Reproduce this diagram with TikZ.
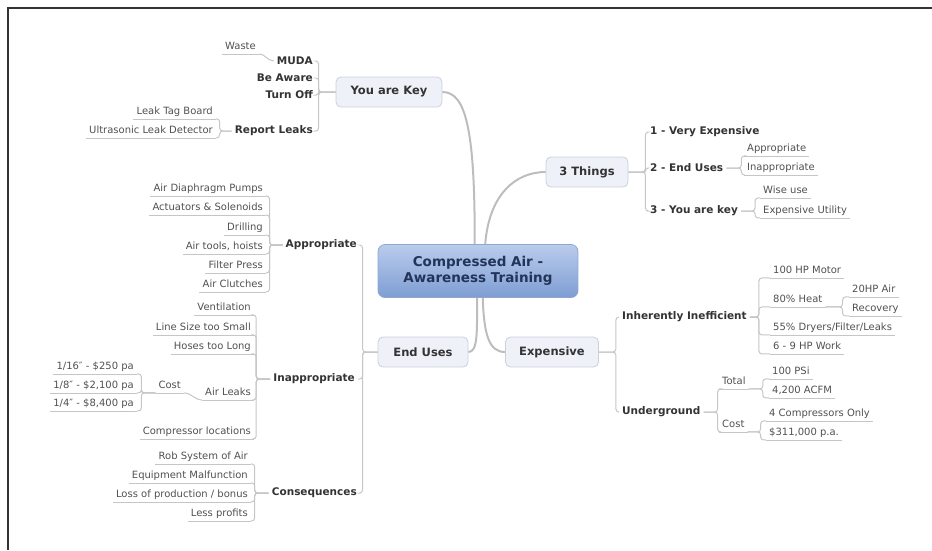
\documentclass[tikz,border=0pt]{standalone}
\usepackage{fontspec}
\setmainfont{DejaVu Sans}
\definecolor{linegray}{HTML}{C6C6C6}
\definecolor{curvegray}{HTML}{BDBDBD}
\definecolor{leaftext}{HTML}{505050}
\definecolor{subtext}{HTML}{333333}
\definecolor{topicfill}{HTML}{EEF1F8}
\definecolor{topicdraw}{HTML}{C9CFDC}
\definecolor{rootdraw}{HTML}{8EA6D2}
\definecolor{roottop}{HTML}{BACCEC}
\definecolor{rootbottom}{HTML}{7E9DD3}
\definecolor{roottext}{HTML}{22345A}
\definecolor{framedark}{HTML}{333333}
\begin{document}
\begin{tikzpicture}[x=1pt,y=-1pt,
  conn/.style={draw=linegray, line width=1pt, rounded corners=3pt},
  maincurve/.style={draw=curvegray, line width=2pt},
  uline/.style={draw=linegray, line width=0.9pt},
  leaf/.style={font=\fontsize{10}{12}\selectfont, text=leaftext,
    inner xsep=3pt, inner ysep=2pt, text height=7.5pt, text depth=2pt,
    append after command={(\tikzlastnode.south west) edge[uline] (\tikzlastnode.south east)}},
  sub/.style={font=\fontsize{10.5}{12}\selectfont\bfseries, text=subtext, inner sep=3pt},
  topic/.style={font=\fontsize{11.5}{13}\selectfont\bfseries, text=subtext,
    fill=topicfill, draw=topicdraw, line width=0.8pt, rounded corners=5pt,
    minimum height=30pt},
  central/.style={font=\fontsize{13.5}{16}\selectfont\bfseries, text=roottext,
    top color=roottop, bottom color=rootbottom, draw=rootdraw, line width=0.8pt,
    rounded corners=7pt, align=center, minimum width=200pt, minimum height=53pt}]
  \useasboundingbox (0,0) rectangle (932,550);
  \draw[draw=framedark, line width=1.6pt] (8,550) -- (8,8) -- (932,8);

  % centre and main topics
  \node[central] (root) at (478,271) {Compressed Air -\\Awareness Training};
  \node[topic, minimum width=106pt] (ykey) at (389,92) {You are Key};
  \node[topic, minimum width=82pt] (three) at (587,172) {3 Things};
  \node[topic, minimum width=90pt] (enduses) at (423,352) {End Uses};
  \node[topic, minimum width=93pt] (expensive) at (552,352) {Expensive};

  \draw[maincurve] (ykey.east) .. controls (466,92) and (475,130) .. (root.97);
  \draw[maincurve] (three.west) .. controls (515,172) and (489,195) .. (root.75);
  \draw[maincurve] (root.-92) .. controls (477,332) and (478,352) .. (enduses.east);
  \draw[maincurve] (root.-80) .. controls (484,335) and (489,352) .. (expensive.west);

  % You are Key
  \node[sub, anchor=east] (muda) at (316,61) {MUDA};
  \node[sub, anchor=east] (beaware) at (316,78) {Be Aware};
  \node[sub, anchor=east] (turnoff) at (316,95) {Turn Off};
  \node[sub, anchor=east] (report) at (316,131) {Report Leaks};
  \foreach \n in {muda,beaware,turnoff,report}
    \draw[conn] (ykey.west) -- ++(-17,0) |- (\n.east);
  \node[leaf, anchor=east] (waste) at (259,47) {Waste};
  \draw[conn] (muda.west) to[out=180,in=0] (waste.south east);
  \node[leaf, anchor=east] (leaktag) at (216,112) {Leak Tag Board};
  \node[leaf, anchor=east] (ultra) at (216,131) {Ultrasonic Leak Detector};
  \foreach \n in {leaktag,ultra}
    \draw[conn] (report.west) -- ++(-12,0) |- (\n.south east);

  % End Uses
  \node[sub, anchor=east] (approp) at (360,245) {Appropriate};
  \node[sub, anchor=east] (inapprop) at (358,379) {Inappropriate};
  \node[sub, anchor=east] (conseq) at (360,493) {Consequences};
  \foreach \n in {approp,inapprop,conseq}
    \draw[conn] (enduses.west) -- ++(-15,0) |- (\n.east);

  \node[leaf, anchor=east] (pumps) at (266,189) {Air Diaphragm Pumps};
  \node[leaf, anchor=east] (actuators) at (266,208) {Actuators \& Solenoids};
  \node[leaf, anchor=east] (drilling) at (266,228) {Drilling};
  \node[leaf, anchor=east] (airtools) at (266,247) {Air tools, hoists};
  \node[leaf, anchor=east] (filter) at (266,266) {Filter Press};
  \node[leaf, anchor=east] (clutches) at (266,285) {Air Clutches};
  \foreach \n in {pumps,actuators,drilling,airtools,filter,clutches}
    \draw[conn] (approp.west) -- ++(-13,0) |- (\n.south east);

  \node[leaf, anchor=east] (vent) at (254,308) {Ventilation};
  \node[leaf, anchor=east] (linesize) at (254,328) {Line Size too Small};
  \node[leaf, anchor=east] (hoses) at (254,347) {Hoses too Long};
  \node[leaf, anchor=east] (airleaks) at (254,393) {Air Leaks};
  \node[leaf, anchor=east] (locations) at (254,432) {Compressor locations};
  \foreach \n in {vent,linesize,hoses,airleaks,locations}
    \draw[conn] (inapprop.west) -- ++(-14,0) |- (\n.south east);
  \node[leaf, anchor=east] (leakcost) at (184,386) {Cost};
  \draw[conn] (airleaks.south west) to[out=180,in=0] (leakcost.south east);
  \node[leaf, anchor=east] (sixteenth) at (137,367) {1/16″ - \$250 pa};
  \node[leaf, anchor=east] (eighth) at (137,386) {1/8″ - \$2,100 pa};
  \node[leaf, anchor=east] (quarter) at (137,404) {1/4″ - \$8,400 pa};
  \foreach \n in {sixteenth,eighth,quarter}
    \draw[conn] (leakcost.south west) -- ++(-14,0) |- (\n.south east);

  \node[leaf, anchor=east] (robair) at (251,457) {Rob System of Air};
  \node[leaf, anchor=east] (malfunction) at (251,476) {Equipment Malfunction};
  \node[leaf, anchor=east] (lossprod) at (251,495) {Loss of production / bonus};
  \node[leaf, anchor=east] (lessprofit) at (251,514) {Less profits};
  \foreach \n in {robair,malfunction,lossprod,lessprofit}
    \draw[conn] (conseq.west) -- ++(-14,0) |- (\n.south east);

  % 3 Things
  \node[sub, anchor=west] (thingone) at (647,132) {1 - Very Expensive};
  \node[sub, anchor=west] (thingtwo) at (647,168) {2 - End Uses};
  \node[sub, anchor=west] (thingthree) at (647,211) {3 - You are key};
  \foreach \n in {thingone,thingtwo,thingthree}
    \draw[conn] (three.east) -- ++(17,0) |- (\n.west);
  \node[leaf, anchor=west] (tapprop) at (744,149) {Appropriate};
  \node[leaf, anchor=west] (tinapprop) at (744,168) {Inappropriate};
  \foreach \n in {tapprop,tinapprop}
    \draw[conn] (thingtwo.east) -- ++(15,0) |- (\n.south west);
  \node[leaf, anchor=west] (wiseuse) at (760,191) {Wise use};
  \node[leaf, anchor=west] (utility) at (760,211) {Expensive Utility};
  \foreach \n in {wiseuse,utility}
    \draw[conn] (thingthree.east) -- ++(14,0) |- (\n.south west);

  % Expensive
  \node[sub, anchor=west] (inefficient) at (619,317) {Inherently Inefficient};
  \node[sub, anchor=west] (underground) at (619,412) {Underground};
  \foreach \n in {inefficient,underground}
    \draw[conn] (expensive.east) -- ++(17,0) |- (\n.west);

  \node[leaf, anchor=west] (motor) at (770,271) {100 HP Motor};
  \node[leaf, anchor=west] (heat) at (770,300) {80\% Heat};
  \node[leaf, anchor=west] (dryers) at (770,328) {55\% Dryers/Filter/Leaks};
  \node[leaf, anchor=west] (hpwork) at (770,347) {6 - 9 HP Work};
  \foreach \n in {motor,heat,dryers,hpwork}
    \draw[conn] (inefficient.east) -- ++(9,0) |- (\n.south west);
  \node[leaf, anchor=west] (hpair) at (849,290) {20HP Air};
  \node[leaf, anchor=west] (recovery) at (849,309) {Recovery};
  \foreach \n in {hpair,recovery}
    \draw[conn] (heat.south east) -- ++(17,0) |- (\n.south west);

  \node[leaf, anchor=west] (total) at (719,382) {Total};
  \node[leaf, anchor=west] (ugcost) at (719,425) {Cost};
  \foreach \n in {total,ugcost}
    \draw[conn] (underground.east) -- ++(14,0) |- (\n.south west);
  \node[leaf, anchor=west] (psi) at (769,372) {100 PSi};
  \node[leaf, anchor=west] (acfm) at (769,391) {4,200 ACFM};
  \foreach \n in {psi,acfm}
    \draw[conn] (total.south east) -- ++(14,0) |- (\n.south west);
  \node[leaf, anchor=west] (compressors) at (766,414) {4 Compressors Only};
  \node[leaf, anchor=west] (peryear) at (766,433) {\$311,000 p.a.};
  \foreach \n in {compressors,peryear}
    \draw[conn] (ugcost.south east) -- ++(13,0) |- (\n.south west);
\end{tikzpicture}
\end{document}
